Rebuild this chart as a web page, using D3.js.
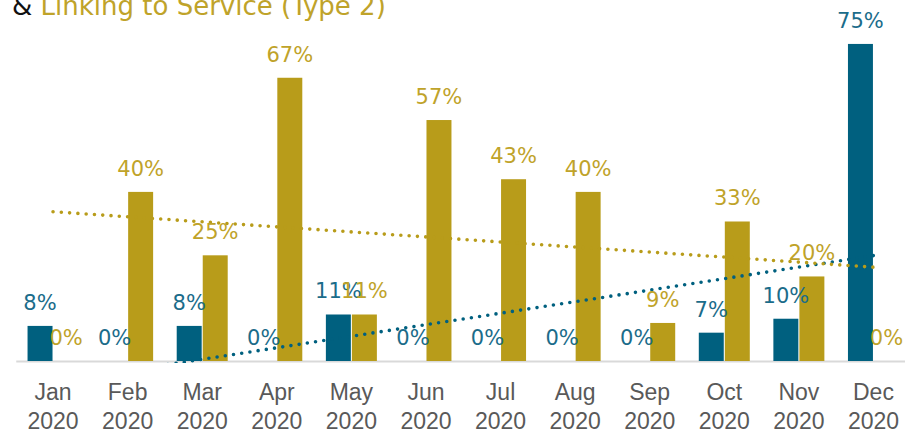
<!DOCTYPE html>
<html>
<head>
<meta charset="utf-8">
<script src="https://cdn.jsdelivr.net/npm/d3@7/dist/d3.min.js"></script>
<style>
  html, body { margin: 0; padding: 0; background: #fff; }
  svg { display: block; font-family: "DejaVu Sans", sans-serif; }
</style>
</head>
<body>
<svg id="chart" width="905" height="434"></svg>
<script>
// ---- data ----
var months = ["Jan", "Feb", "Mar", "Apr", "May", "Jun", "Jul", "Aug", "Sep", "Oct", "Nov", "Dec"];
var year = "2020";
var blueVals = [8.3, 0, 8.3, 0, 11, 0, 0, 0, 0, 6.7, 10, 75];
var goldVals = [0, 40, 25, 67, 11, 57, 43, 40, 9, 33, 20, 0];
var titleLead = "& ";
var titleRest = "Linking to Service (Type 2)";

var BLUE = "#00607f", GOLD = "#b89c1a", BLUE_TXT = "#1b6c8a", GOLD_TXT = "#bfa32a";

var svg = d3.select("#chart");
var baseY = 361, topY = 22.8;

var x = d3.scaleBand().domain(months).range([15.75, 910.75]).padding(0);
var y = d3.scaleLinear().domain([0, 80]).range([baseY, topY]);
var x1 = d3.scaleBand().domain(["blue", "gold"]).range([0, 51]).paddingInner(0.04);
function cx(i) { return x(months[i]) + x.bandwidth() / 2; }
function gx(i) { return cx(i) - 25.5; }

// ---- title (cut at top) ----
var t = svg.append("text").attr("x", 12).attr("y", 15).style("font-size", "26px");
t.append("tspan").attr("fill", "#111").text(titleLead);
t.append("tspan").attr("fill", GOLD_TXT).text(titleRest);

// ---- axis ----
var ax = svg.append("g").attr("transform", "translate(0," + baseY + ")")
  .call(d3.axisBottom(x).tickSize(0).tickFormat(""));
ax.select(".domain").attr("stroke", "#d9d9d9").attr("stroke-width", 2);
ax.selectAll(".tick text").remove();
ax.selectAll(".tick").append("text")
  .attr("fill", "#595959").attr("text-anchor", "middle").style("font-size", "23px")
  .each(function (d) {
    var el = d3.select(this);
    el.append("tspan").attr("x", 0).attr("y", 39).text(d);
    el.append("tspan").attr("x", 0).attr("y", 68).text(year);
  });

// ---- bars ----
var series = [
  { key: "blue", vals: blueVals, fill: BLUE, txt: BLUE_TXT },
  { key: "gold", vals: goldVals, fill: GOLD, txt: GOLD_TXT }
];
series.forEach(function (s) {
  var g = svg.append("g");
  g.selectAll("rect").data(s.vals).join("rect")
    .attr("x", function (d, i) { return gx(i) + x1(s.key); })
    .attr("width", x1.bandwidth())
    .attr("y", function (d) { return y(d); })
    .attr("height", function (d) { return baseY - y(d); })
    .attr("fill", s.fill);
});

// ---- trend lines (linear fit, clipped to plot) ----
svg.append("clipPath").attr("id", "plotClip").append("rect")
  .attr("x", 0).attr("y", 0).attr("width", 905).attr("height", baseY + 2);
function fit(vals) {
  var n = vals.length, xs = d3.range(n);
  var mx = d3.mean(xs), my = d3.mean(vals);
  var sxy = d3.sum(xs, function (i) { return (i - mx) * (vals[i] - my); });
  var sxx = d3.sum(xs, function (i) { return (i - mx) * (i - mx); });
  var b = sxy / sxx, a = my - b * mx;
  return xs.map(function (i) { return [i, a + b * i]; });
}
var line = d3.line().x(function (d) { return cx(d[0]); }).y(function (d) { return y(d[1]); });
series.forEach(function (s) {
  svg.append("path").datum(fit(s.vals)).attr("d", line)
    .attr("fill", "none").attr("stroke", s.fill).attr("stroke-width", 3.6)
    .attr("stroke-linecap", "round").attr("stroke-dasharray", "0 8.3")
    .attr("clip-path", "url(#plotClip)");
});

// ---- data labels ----
series.forEach(function (s) {
  svg.append("g").selectAll("text").data(s.vals).join("text")
    .attr("x", function (d, i) { return gx(i) + x1(s.key) + x1.bandwidth() / 2; })
    .attr("y", function (d) { return y(d) - 16; })
    .attr("text-anchor", "middle").attr("fill", s.txt).style("font-size", "21px")
    .text(function (d) { return Math.round(d) + "%"; });
});
</script>
</body>
</html>
